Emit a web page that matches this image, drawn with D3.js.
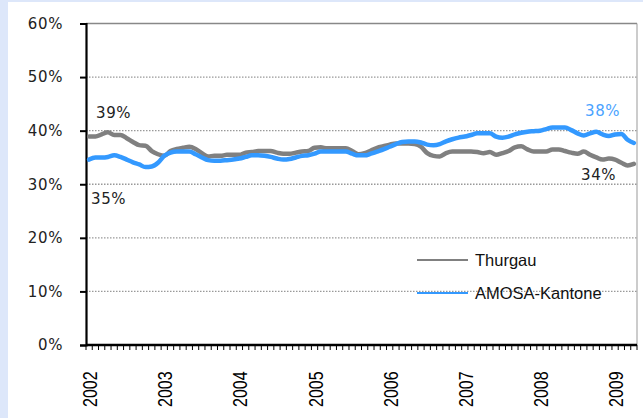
<!DOCTYPE html>
<html><head><meta charset="utf-8">
<script src="https://cdn.jsdelivr.net/npm/d3@7"></script>
<style>body{margin:0;background:#fff}svg{display:block}</style>
</head><body><svg id="c" width="643" height="418"></svg>
<script>
const years = ["2002","2003","2004","2005","2006","2007","2008","2009"];
const months = [];
for (let y = 2002; y <= 2009; y++) for (let m = 1; m <= 12; m++) { if (y === 2009 && m > 4) break; months.push(y + "-" + m); }
const thurgau = [38.9,38.9,39.3,39.7,39.2,39.2,38.6,37.9,37.3,37.2,36.2,35.6,
35.3,36.2,36.6,36.8,37.0,36.6,35.8,35.2,35.3,35.3,35.5,35.5,
35.5,35.9,36.0,36.2,36.2,36.2,35.9,35.7,35.7,35.9,36.1,36.2,
36.8,36.9,36.7,36.7,36.7,36.7,36.2,35.6,35.8,36.3,36.8,37.1,
37.4,37.6,37.6,37.6,37.5,37.0,35.8,35.3,35.2,35.8,36.1,36.1,
36.1,36.1,36.0,35.8,36.0,35.5,35.8,36.2,36.9,37.1,36.5,36.1,
36.1,36.1,36.5,36.5,36.2,35.9,35.7,36.1,35.5,35.0,34.6,34.8,
34.6,34.0,33.5,33.8];
const amosa = [34.6,35.0,35.0,35.1,35.4,35.1,34.6,34.1,33.7,33.2,33.3,34.0,
35.3,35.9,36.1,36.1,36.1,35.6,35.0,34.5,34.4,34.4,34.5,34.6,
34.8,35.1,35.4,35.4,35.3,35.1,34.8,34.6,34.7,35.0,35.3,35.4,
35.7,36.1,36.1,36.1,36.1,36.1,35.7,35.4,35.4,35.7,36.1,36.5,
37.0,37.5,37.9,38.0,38.0,37.8,37.4,37.3,37.5,38.0,38.4,38.7,
38.9,39.2,39.5,39.5,39.5,38.9,38.7,38.9,39.3,39.6,39.8,39.9,
40.0,40.3,40.6,40.6,40.6,40.1,39.5,39.1,39.5,39.8,39.3,39.0,
39.3,39.4,38.3,37.7];
const yTicks = [0,10,20,30,40,50,60];
const seriesNames = ["Thurgau","AMOSA-Kantone"];
const colors = ["#808080","#3399ff"];

const svg = d3.select("#c");
svg.append("rect").attr("width",643).attr("height",418).attr("fill","#dde7fa");
svg.append("rect").attr("x",8).attr("y",2).attr("width",635).attr("height",416).attr("fill","#fff");

const L = 86, R = 637, T = 23.5, B = 345;
const x = d3.scaleBand().domain(months).range([L, R]).padding(0);
const cx = d => x(d) + x.bandwidth()/2;
const y = d3.scaleLinear().domain([0,60]).range([B, T]);
const labelFont = "'DejaVu Sans', sans-serif";

// gridlines
svg.append("g").selectAll("line").data(yTicks.filter(t => t>0 && t<60)).join("line")
  .attr("x1",L).attr("x2",R).attr("y1",d=>y(d)).attr("y2",d=>y(d))
  .attr("stroke","#999").attr("stroke-width",1.3).attr("stroke-dasharray","1.5,1.5");
// top and right border
svg.append("line").attr("x1",L).attr("x2",R).attr("y1",y(60)).attr("y2",y(60)).attr("stroke","#888").attr("stroke-width",1.5);
svg.append("line").attr("x1",R).attr("x2",R).attr("y1",y(60)).attr("y2",B).attr("stroke","#999").attr("stroke-width",1);

// y axis
const yAxis = svg.append("g").attr("transform",`translate(${L},0)`)
  .call(d3.axisLeft(y).tickValues(yTicks).tickFormat(d=>d+"%").tickSize(6).tickPadding(17));
yAxis.select(".domain").attr("stroke","#000").attr("stroke-width",2.2);
yAxis.selectAll(".tick line").attr("stroke","#000").attr("stroke-width",2);
yAxis.selectAll("text").attr("font-family",labelFont).attr("font-size",15).attr("fill","#222").attr("letter-spacing","0.6");

// x axis
const xAxis = svg.append("g").attr("transform",`translate(0,${B})`);
xAxis.append("line").attr("x1",L).attr("x2",R).attr("stroke","#000").attr("stroke-width",2.5);
const bounds = months.map(m => x(m)).concat([R]);
xAxis.selectAll("line.t").data(bounds).join("line").attr("class","t")
  .attr("x1",d=>d).attr("x2",d=>d).attr("y1",0).attr("y2",5).attr("stroke","#000").attr("stroke-width",1);
xAxis.selectAll("text").data(years).join("text")
  .attr("transform",d=>`translate(${cx(d+"-1")+8},${62}) rotate(-90) scale(1,1.25)`)
  .attr("font-family","'Liberation Sans', Arial, sans-serif").attr("font-size",16).attr("fill","#000")
  .text(d=>d);

// lines
const line = d3.line().x((d,i)=>cx(months[i])).y(d=>y(d)).curve(d3.curveMonotoneX);
[thurgau, amosa].forEach((s,k)=>{
  svg.append("path").datum(s).attr("d",line).attr("fill","none")
    .attr("stroke",colors[k]).attr("stroke-width",4.5).attr("stroke-linejoin","round").attr("stroke-linecap","round");
});

// annotations
const ann = [
  {t: Math.round(thurgau[0])+"%", x: 96, y: 117.5, c:"#222"},
  {t: Math.round(amosa[0])+"%", x: 91, y: 204, c:"#222"},
  {t: Math.round(amosa[amosa.length-1])+"%", x: 585, y: 116, c:"#4aa3ff"},
  {t: Math.round(thurgau[thurgau.length-1])+"%", x: 581, y: 180, c:"#222"}
];
svg.append("g").selectAll("text").data(ann).join("text")
  .attr("x",d=>d.x).attr("y",d=>d.y).attr("fill",d=>d.c)
  .attr("font-family",labelFont).attr("font-size",15).attr("letter-spacing","0.6").text(d=>d.t);

// legend
const lg = svg.append("g");
seriesNames.forEach((n,k)=>{
  const ly = [260,293][k];
  lg.append("line").attr("x1",417).attr("x2",468).attr("y1",ly).attr("y2",ly).attr("stroke",colors[k]).attr("stroke-width",2);
  lg.append("text").attr("x",475).attr("y",ly+6).attr("font-family","'Liberation Sans', Arial, sans-serif")
    .attr("font-size",16.5).attr("fill","#111").text(n);
});
</script></body></html>
